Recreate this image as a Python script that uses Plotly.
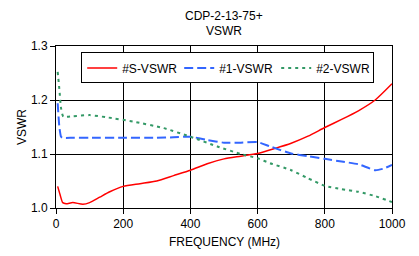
import plotly.graph_objects as go

freq_s = [5, 12, 20, 30, 50, 80, 100, 130, 160, 200, 250, 300, 350, 400, 450, 500, 550, 600, 650, 700, 750, 800, 850, 900, 950, 1000]
vswr_s = [1.04, 1.025, 1.01, 1.008, 1.01, 1.007, 1.01, 1.02, 1.03, 1.04, 1.045, 1.05, 1.06, 1.07, 1.082, 1.091, 1.096, 1.101, 1.11, 1.12, 1.133, 1.149, 1.164, 1.18, 1.2, 1.23]

freq_1 = [5, 10, 15, 20, 50, 100, 200, 300, 350, 400, 450, 500, 550, 600, 637, 700, 750, 800, 850, 900, 950, 975, 1000]
vswr_1 = [1.194, 1.15, 1.132, 1.13, 1.13, 1.13, 1.13, 1.13, 1.131, 1.132, 1.126, 1.121, 1.121, 1.122, 1.114, 1.101, 1.096, 1.091, 1.086, 1.081, 1.07, 1.073, 1.08]

freq_2 = [5, 10, 15, 22, 50, 100, 150, 230, 320, 400, 480, 550, 600, 637, 700, 750, 800, 850, 900, 950, 1000]
vswr_2 = [1.252, 1.22, 1.185, 1.169, 1.17, 1.172, 1.168, 1.16, 1.148, 1.132, 1.114, 1.1, 1.092, 1.083, 1.07, 1.055, 1.041, 1.035, 1.03, 1.022, 1.011]

x_ticks = [0, 200, 400, 600, 800, 1000]
y_ticks = [1.0, 1.1, 1.2, 1.3]
y_tick_text = ["1.0", "1.1", "1.2", "1.3"]
title_lines = ["CDP-2-13-75+", "VSWR"]
y_title = "VSWR"
x_title = "FREQUENCY (MHz)"

font = "Liberation Sans, Arial, sans-serif"

fig = go.Figure()
fig.add_trace(go.Scatter(x=freq_s, y=vswr_s, mode="lines", name="#S-VSWR",
                         line=dict(color="#FF0000", width=1.5, shape="spline", smoothing=0.6)))
fig.add_trace(go.Scatter(x=freq_1, y=vswr_1, mode="lines", name="#1-VSWR",
                         line=dict(color="#3366FF", width=2, dash="9px,4px", shape="spline", smoothing=0.5)))
fig.add_trace(go.Scatter(x=freq_2, y=vswr_2, mode="lines", name="#2-VSWR",
                         line=dict(color="#339966", width=2, dash="3px,4px", shape="spline", smoothing=0.5)))

for i, t in enumerate(title_lines):
    fig.add_annotation(text=t, xref="paper", yref="paper", x=0.5, y=1.0 + (46 - 16 - 15 * i) / 162.0,
                       xanchor="center", yanchor="middle", showarrow=False,
                       font=dict(family=font, size=12, color="black"))

fig.add_annotation(text=y_title, xref="paper", yref="paper", x=(22 - 56) / 336.0, y=0.5,
                   xanchor="center", yanchor="middle", textangle=-90, showarrow=False,
                   font=dict(family=font, size=12, color="black"))
fig.add_annotation(text=x_title, xref="paper", yref="paper", x=0.5, y=-(242 - 208) / 162.0,
                   xanchor="center", yanchor="middle", showarrow=False,
                   font=dict(family=font, size=12, color="black"))

fig.update_layout(
    width=411, height=248,
    margin=dict(l=48, r=27, t=38, b=48, autoexpand=False),
    paper_bgcolor="white", plot_bgcolor="white",
    font=dict(family=font, size=12, color="black"),
    showlegend=True,
    legend=dict(orientation="h", x=0.075, y=0.96, xanchor="left", yanchor="top",
                bgcolor="white", bordercolor="black", borderwidth=1,
                font=dict(family=font, size=12), entrywidth=52, entrywidthmode="pixels",
                tracegroupgap=0, itemwidth=30),
    xaxis=dict(range=[0, 1000], tickvals=x_ticks, showgrid=True, gridcolor="#000000", gridwidth=1,
               showline=True, linecolor="black", linewidth=1, mirror=True, automargin=False,
               ticks="outside", ticklen=5, tickcolor="black", zeroline=False),
    yaxis=dict(range=[1.0, 1.3], tickvals=y_ticks, ticktext=y_tick_text, showgrid=True,
               gridcolor="#000000", gridwidth=1, automargin=False,
               showline=True, linecolor="black", linewidth=1, mirror=True,
               ticks="outside", ticklen=5, tickcolor="black", zeroline=False),
)

fig.write_html("out.html")
